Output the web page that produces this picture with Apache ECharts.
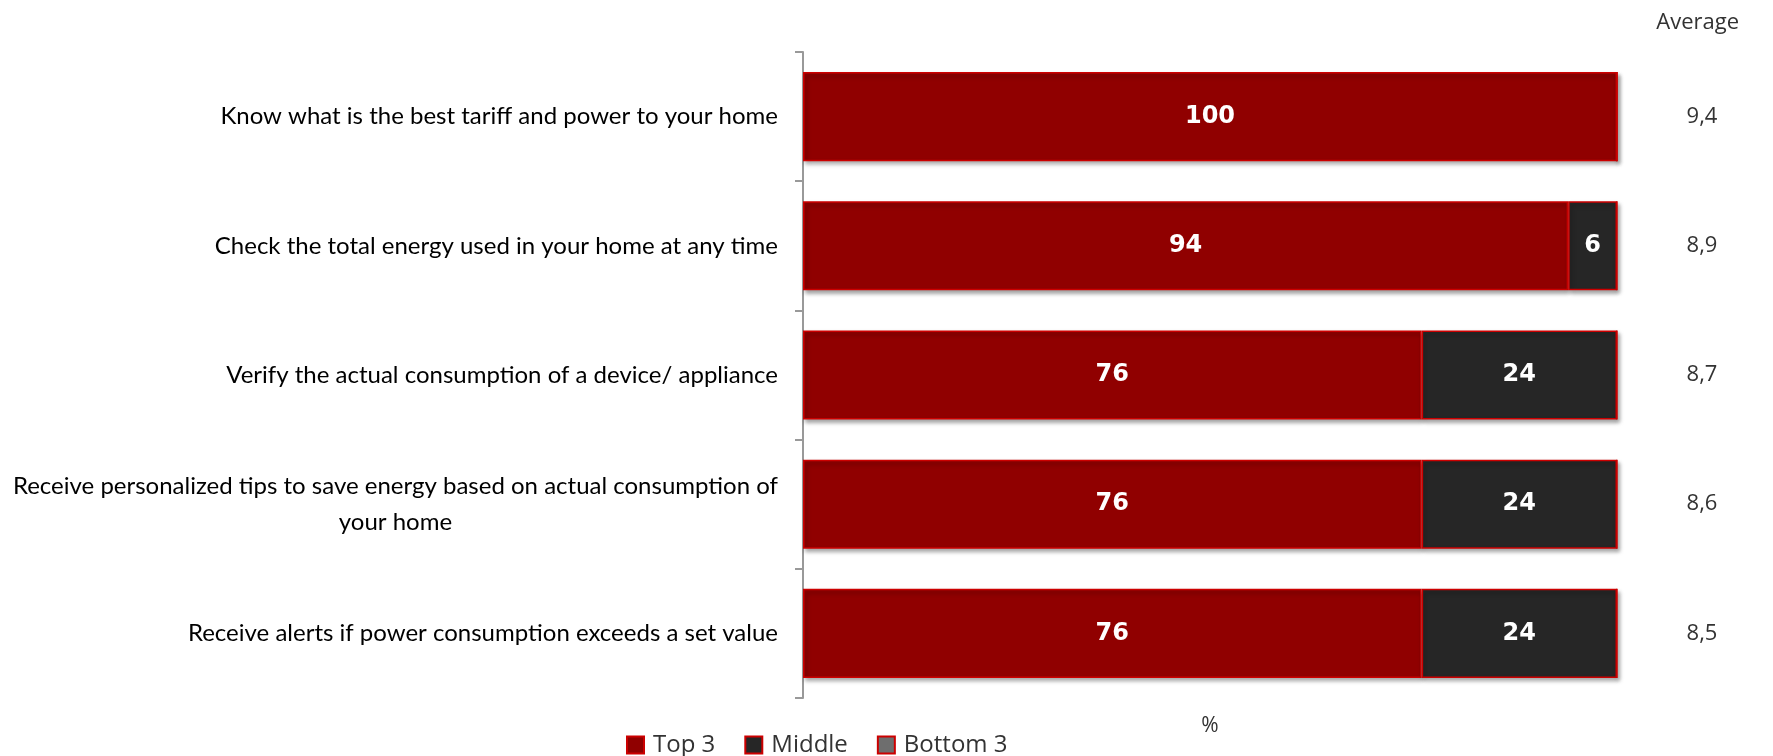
<!DOCTYPE html>
<html>
<head>
<meta charset="utf-8">
<script src="https://cdn.jsdelivr.net/npm/echarts@6/dist/echarts.min.js"></script>
<style>
html,body{margin:0;padding:0;background:#fff;}
#chart{width:1773px;height:756px;}
</style>
</head>
<body>
<div id="chart"></div>
<script>
var categories = [
  'Know what is the best tariff and power to your home',
  'Check the total energy used in your home at any time',
  'Verify the actual consumption of a device/ appliance',
  'Receive personalized tips to save energy based on actual consumption of\nyour home',
  'Receive alerts if power consumption exceeds a set value'
];
var top3 = [100, 94, 76, 76, 76];
var middle = [0, 6, 24, 24, 24];
var bottom3 = [0, 0, 0, 0, 0];
var averages = ['9,4', '8,9', '8,7', '8,6', '8,5'];
var seriesNames = ['Top 3', 'Middle', 'Bottom 3'];

var chart = echarts.init(document.getElementById('chart'));
var catFont = 'Lato';
function bar(name, data, color) {
  return {
    name: name,
    type: 'bar',
    stack: 'total',
    barWidth: '69%',
    data: data,
    itemStyle: {
      color: color,
      borderColor: '#cc0000',
      borderWidth: 1.5,
      shadowColor: 'rgba(0,0,0,0.35)',
      shadowBlur: 4,
      shadowOffsetX: 2,
      shadowOffsetY: 3
    },
    label: {
      show: true,
      position: 'inside',
      color: '#ffffff',
      fontFamily: 'DejaVu Sans',
      fontWeight: 'bold',
      fontSize: 24,
      formatter: function (p) { return p.value > 0 ? p.value : ''; }
    }
  };
}
chart.setOption({
  animation: false,
  title: {
    text: 'Average',
    right: 34,
    top: 12,
    padding: 0,
    textStyle: { fontFamily: 'Open Sans', fontSize: 22, fontWeight: 'normal', color: '#333' }
  },
  legend: {
    top: 728,
    left: 621,
    itemWidth: 17,
    itemHeight: 17,
    itemGap: 29,
    icon: 'rect',
    textStyle: { fontFamily: 'Open Sans', fontSize: 24, color: '#333', padding: [0, 0, 0, 4] },
    data: seriesNames
  },
  grid: { left: 803, right: 156, top: 52, bottom: 58 },
  xAxis: {
    type: 'value',
    min: 0,
    max: 100,
    name: '%',
    nameLocation: 'middle',
    nameGap: 18,
    nameTextStyle: { fontFamily: 'Open Sans', fontSize: 21, color: '#333' },
    axisLine: { show: false },
    axisTick: { show: false },
    axisLabel: { show: false },
    splitLine: { show: false }
  },
  yAxis: [{
    type: 'category',
    inverse: true,
    data: categories,
    axisLine: { show: true, lineStyle: { color: '#999', width: 2 } },
    axisTick: { show: true, length: 8, lineStyle: { color: '#999', width: 2 } },
    axisLabel: {
      margin: 25,
      color: '#000',
      fontFamily: catFont,
      fontSize: 24,
      lineHeight: 36,
      formatter: function (v) {
        return v.split('\n').map(function (s) { return '{a|' + s + '}'; }).join('\n');
      },
      rich: { a: { align: 'center', fontFamily: catFont, fontSize: 24, color: '#000', lineHeight: 36 } }
    }
  }, {
    type: 'category',
    inverse: true,
    position: 'right',
    data: averages,
    axisLine: { show: false },
    axisTick: { show: false },
    axisLabel: {
      margin: 85,
      align: 'center',
      color: '#333',
      fontFamily: 'Open Sans',
      fontSize: 22
    }
  }],
  series: [
    bar(seriesNames[0], top3, '#900000'),
    bar(seriesNames[1], middle, '#262626'),
    bar(seriesNames[2], bottom3, '#6e6e6e')
  ]
});
</script>
</body>
</html>
